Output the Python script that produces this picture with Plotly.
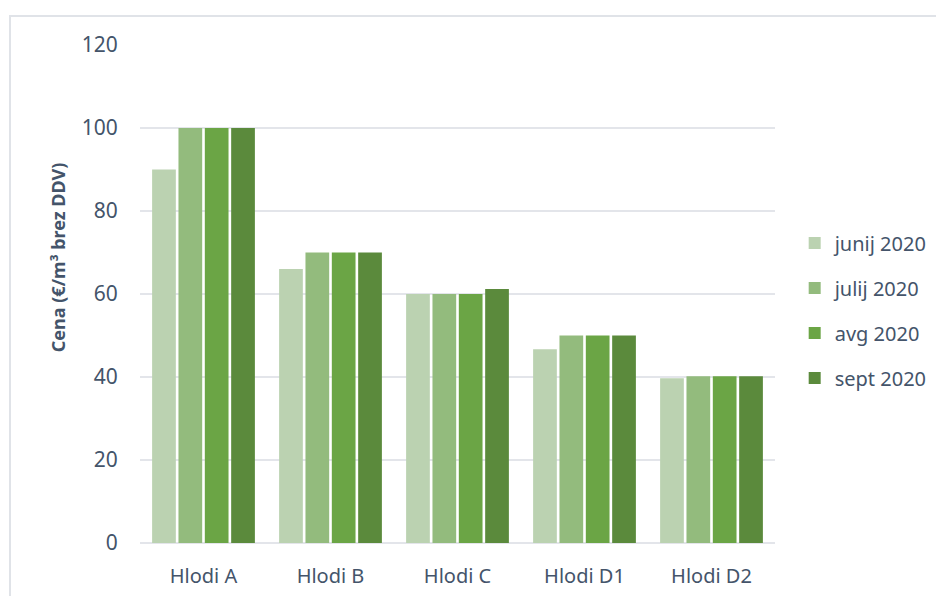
import plotly.graph_objects as go

categories = ["Hlodi A", "Hlodi B", "Hlodi C", "Hlodi D1", "Hlodi D2"]
series_names = ["junij 2020", "julij 2020", "avg 2020", "sept 2020"]
junij = [90, 66, 60, 46.7, 39.7]
julij = [100, 70, 60, 50, 40.2]
avg = [100, 70, 60, 50, 40.2]
sept = [100, 70, 61.2, 50, 40.2]
y_ticks = [0, 20, 40, 60, 80, 100, 120]

colors = ["#bbd2b1", "#93bb7d", "#6ba545", "#5b8a3c"]
values = [junij, julij, avg, sept]

txt = "#44546a"
font = "Noto Sans"

fig = go.Figure()
for i, (name, vals) in enumerate(zip(series_names, values)):
    fig.add_trace(go.Bar(
        x=categories, y=vals, name=name,
        marker=dict(color=colors[i], line=dict(width=0)),
        legendgroup=name,
    ))

fig.update_layout(
    width=936, height=588,
    margin=dict(l=132, r=169, t=37, b=53, autoexpand=False),
    paper_bgcolor="white", plot_bgcolor="white",
    barmode="group", bargap=0.17, bargroupgap=0.1,
    font=dict(family=font, size=20, color=txt),
    showlegend=True,
    legend=dict(x=1.031, xanchor="left", y=0.467, yanchor="middle",
                font=dict(family=font, size=20, color=txt),
                tracegroupgap=16, traceorder="grouped",
                bgcolor="rgba(0,0,0,0)"),
    xaxis=dict(showgrid=False, showline=False, ticks="outside", ticklen=15,
               tickcolor="rgba(0,0,0,0)", automargin=False,
               tickfont=dict(family=font, size=20, color=txt)),
    yaxis=dict(range=[0, 120], tickvals=y_ticks, showgrid=True,
               gridcolor="#e3e5ea", gridwidth=2, automargin=False,
               zeroline=True, zerolinecolor="#e3e5ea", zerolinewidth=2,
               ticks="outside", ticklen=17, tickcolor="rgba(0,0,0,0)",
               tickfont=dict(family=font, size=21, color=txt)),
    annotations=[dict(text="<b>Cena (€/m³ brez DDV)</b>", textangle=-90,
                      xref="paper", yref="paper", x=-0.129, y=0.574,
                      showarrow=False, xanchor="center", yanchor="middle",
                      font=dict(family=font, size=18, color=txt))],
    shapes=[dict(type="rect", xref="paper", yref="paper",
                 x0=-0.2047, x1=1.6, y0=-0.5, y1=1.0582,
                 line=dict(color="#e0e3e8", width=2), layer="below")],
)

fig.write_html("out.html")
